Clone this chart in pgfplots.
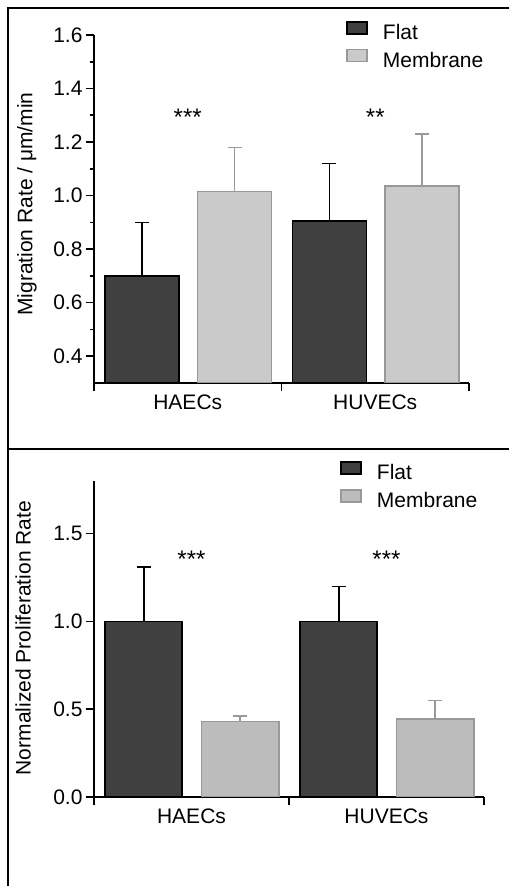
\documentclass[border=0pt]{standalone}
\usepackage{pgfplots}
\pgfplotsset{compat=1.18}
\usepackage{fontspec}
\setmainfont{Liberation Sans}
\definecolor{flatfill}{HTML}{404040}
\definecolor{memfill}{HTML}{CACACA}
\definecolor{memfillb}{HTML}{BCBCBC}
\definecolor{memline}{HTML}{999999}
\pgfplotsset{
 common/.style={
  scale only axis,
  axis x line=bottom, axis y line=left,
  axis line style={-, line width=1.6pt},
  every tick/.style={line width=1.6pt, black},
  tick align=outside,
  major tick length=8pt,
  minor tick length=4pt,
  xmin=-0.5, xmax=1.5,
  xtick={-0.5,0.5,1.5},
  xticklabels={HAECs,HUVECs,{}},
  tick label style={font=\fontsize{21}{25}\selectfont},
  /pgf/number format/assume math mode=true,
  label style={font=\fontsize{21}{25}\selectfont},
  legend style={draw=none, fill=none, font=\fontsize{21}{25}\selectfont,
    legend cell align=left, row sep=0pt, column sep=0pt,
    nodes={inner sep=0pt}},
 },
 flat/.style={ybar, bar width=0.395, bar shift=0, fill=flatfill, draw=black, line width=1.5pt,
   legend image code/.code={\draw[fill=flatfill, draw=black, line width=1.5pt] (0pt,-1.5pt) rectangle (20pt,10.5pt); \path[draw=none, fill=none] (0pt,-5pt) rectangle (36pt,19.5pt);},
   error bars/.cd, y dir=plus, y explicit,
   error bar style={line width=1.6pt, black},
   error mark options={line width=1.6pt, black, mark size=7pt, rotate=90}},
 mem/.style={ybar, bar width=0.395, bar shift=0, fill=#1, draw=memline, line width=1.5pt,
   legend image code/.code={\draw[fill=#1, draw=memline, line width=1.5pt] (0pt,-1.5pt) rectangle (20pt,10.5pt); \path[draw=none, fill=none] (0pt,-5pt) rectangle (36pt,19.5pt);},
   error bars/.cd, y dir=plus, y explicit,
   error bar style={line width=1.6pt, memline},
   error mark options={line width=1.6pt, memline, mark size=7pt, rotate=90}},
}
\begin{document}
\begin{tikzpicture}[x=1pt,y=1pt]
\useasboundingbox (0,0) rectangle (509,886);
\draw[line width=2.5pt] (509,878) -- (8,878) -- (8,0);
\draw[line width=2.5pt] (8,437) -- (509,437);
% top panel
\begin{axis}[common,
  at={(94pt,503pt)}, anchor=south west,
  width=375pt, height=348pt,
  ymin=0.3, ymax=1.6,
  ytick={0.4,0.6,...,1.6},
  minor y tick num=1,
  yticklabel style={/pgf/number format/.cd, fixed, fixed zerofill, precision=1},
  xticklabel style={xshift=93.75pt},
  ylabel={Migration Rate / μm/min},
  ylabel style={at={(axis description cs:-0.179,0.514)}, anchor=center},
  legend style={at={(axis description cs:0.664,1.07)}, anchor=north west},
]
\addplot[flat] coordinates {(-0.245,0.70) +- (0,0.20) (0.755,0.905) +- (0,0.215)};
\addlegendentry{Flat}
\addplot[mem=memfill] coordinates {(0.25,1.015) +- (0,0.165) (1.25,1.035) +- (0,0.195)};
\addlegendentry{Membrane}
\node[font=\fontsize{24}{28}\selectfont] at (axis cs:0,1.294) {***};
\node[font=\fontsize{24}{28}\selectfont] at (axis cs:1,1.294) {**};
\end{axis}
% bottom panel
\begin{axis}[common,
  at={(94pt,89pt)}, anchor=south west,
  width=390pt, height=316pt,
  ymin=0, ymax=1.8,
  ytick={0,0.5,1,1.5},
  yticklabel style={/pgf/number format/.cd, fixed, fixed zerofill, precision=1},
  xticklabel style={xshift=97.5pt},
  ylabel={Normalized Proliferation Rate},
  ylabel style={at={(axis description cs:-0.182,0.503)}, anchor=center},
  legend style={at={(axis description cs:0.623,1.095)}, anchor=north west},
]
\addplot[flat] coordinates {(-0.245,1.0) +- (0,0.31) (0.755,1.0) +- (0,0.20)};
\addlegendentry{Flat}
\addplot[mem=memfillb] coordinates {(0.25,0.43) +- (0,0.03) (1.25,0.445) +- (0,0.105)};
\addlegendentry{Membrane}
\node[font=\fontsize{24}{28}\selectfont] at (axis cs:0,1.355) {***};
\node[font=\fontsize{24}{28}\selectfont] at (axis cs:1,1.355) {***};
\end{axis}
\end{tikzpicture}
\end{document}
